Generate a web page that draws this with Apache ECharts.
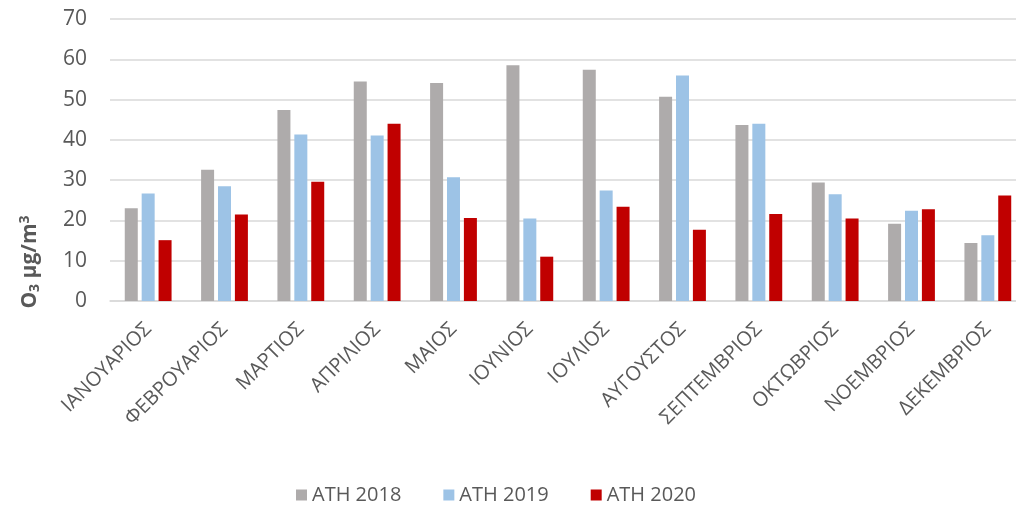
<!DOCTYPE html>
<html>
<head>
<meta charset="utf-8">
<script src="https://cdn.jsdelivr.net/npm/echarts@6/dist/echarts.min.js"></script>
<style>
  html, body { margin: 0; padding: 0; background: #ffffff; overflow: hidden; }
  #chart { width: 1030px; height: 511px; }
</style>
</head>
<body>
<div id="chart"></div>
<script>
// μήνες
const months = ['ΙΑΝΟΥΑΡΙΟΣ', 'ΦΕΒΡΟΥΑΡΙΟΣ', 'ΜΑΡΤΙΟΣ', 'ΑΠΡΙΛΙΟΣ', 'ΜΑΙΟΣ', 'ΙΟΥΝΙΟΣ',
  'ΙΟΥΛΙΟΣ', 'ΑΥΓΟΥΣΤΟΣ', 'ΣΕΠΤΕΜΒΡΙΟΣ', 'ΟΚΤΩΒΡΙΟΣ', 'ΝΟΕΜΒΡΙΟΣ', 'ΔΕΚΕΜΒΡΙΟΣ']
const ath2018 = [23.0, 32.6, 47.4, 54.5, 54.1, 58.5, 57.4, 50.7, 43.7, 29.4, 19.2, 14.4]
const ath2019 = [26.7, 28.5, 41.3, 41.1, 30.7, 20.5, 27.4, 56.0, 44.0, 26.5, 22.4, 16.3]
const ath2020 = [15.1, 21.5, 29.6, 44.0, 20.6, 11.0, 23.4, 17.7, 21.6, 20.5, 22.8, 26.2]
const yTicks = { min: 0, max: 70, interval: 10 }

const font = 'Open Sans'
const textColor = '#595959'

const myChart = echarts.init(document.getElementById('chart'))
myChart.setOption({
  animation: false,
  textStyle: { fontFamily: font },
  // το γράφημα συνεχίζει λίγο έξω από την εικόνα δεξιά
  grid: { left: 110, top: 19, width: 916, height: 282 },
  legend: {
    bottom: 1,
    left: 291,
    itemWidth: 11,
    itemHeight: 11,
    itemGap: 42,
    icon: 'rect',
    textStyle: { fontSize: 20, color: textColor, fontFamily: font },
    data: ['ΑΤΗ 2018', 'ΑΤΗ 2019', 'ΑΤΗ 2020']
  },
  xAxis: {
    type: 'category',
    data: months,
    axisLine: { show: true, lineStyle: { color: '#D9D9D9', width: 1.5 } },
    axisTick: { show: false },
    axisLabel: {
      rotate: 45,
      interval: 0,
      margin: 25,
      fontSize: 20,
      color: textColor,
      fontFamily: font
    }
  },
  yAxis: {
    type: 'value',
    min: yTicks.min,
    max: yTicks.max,
    interval: yTicks.interval,
    axisLine: { show: false },
    axisTick: { show: false },
    axisLabel: { fontSize: 21, color: textColor, margin: 23, fontFamily: font },
    splitLine: { lineStyle: { color: '#D9D9D9', width: 1.5 } }
  },
  graphic: [
    {
      type: 'text',
      x: 30,
      y: 262,
      rotation: Math.PI / 2,
      style: {
        text: 'O{sub|3} μg/m{sup|3}',
        align: 'center',
        verticalAlign: 'middle',
        fontSize: 21,
        fontWeight: 'bold',
        fontFamily: font,
        fill: textColor,
        rich: {
          sub: { fontSize: 14, fontWeight: 'bold', fontFamily: font, fill: textColor, padding: [10, 0, 0, 0] },
          sup: { fontSize: 14, fontWeight: 'bold', fontFamily: font, fill: textColor, padding: [0, 0, 10, 0] }
        }
      }
    }
  ],
  series: [
    { name: 'ΑΤΗ 2018', type: 'bar', data: ath2018, barWidth: 13, barGap: '30%', itemStyle: { color: '#AEABAB' } },
    { name: 'ΑΤΗ 2019', type: 'bar', data: ath2019, barWidth: 13, barGap: '30%', itemStyle: { color: '#9DC3E6' } },
    { name: 'ΑΤΗ 2020', type: 'bar', data: ath2020, barWidth: 13, barGap: '30%', itemStyle: { color: '#C00000' } }
  ]
})
</script>
</body>
</html>
